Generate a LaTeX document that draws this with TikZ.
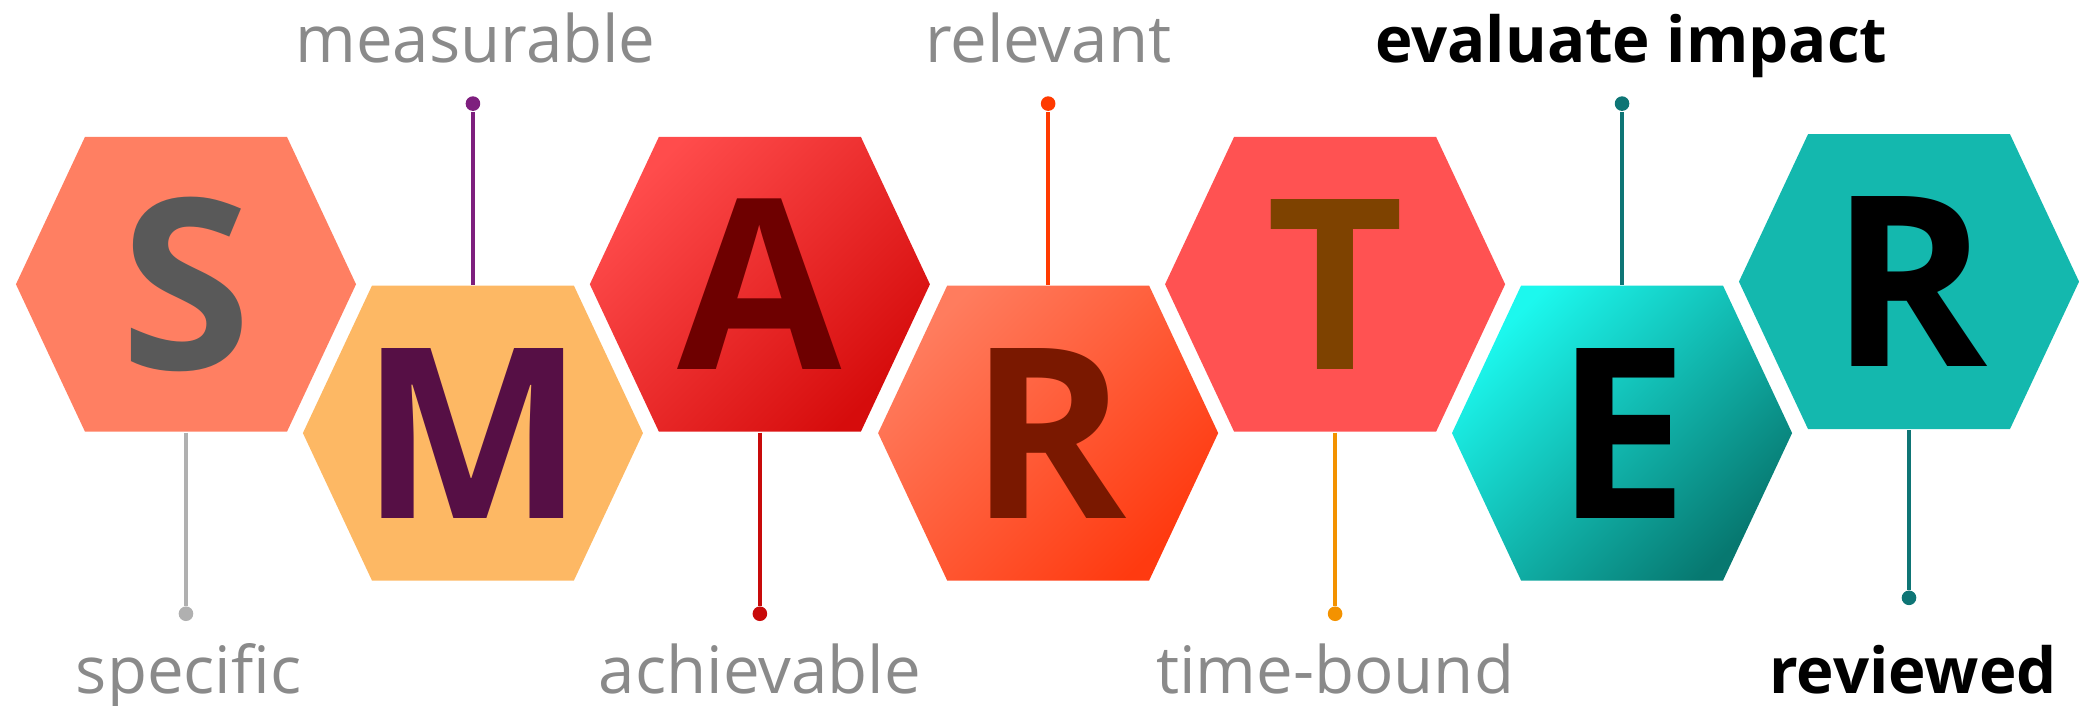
\documentclass[tikz,border=0pt]{standalone}
\usepackage{fontspec}
\usepackage{tikz}
\newfontfamily\hexfont{Open Sans}
\newfontfamily\tagfont{Open Sans}
\definecolor{tagGray}{HTML}{8A8A8A}
\definecolor{hexS}{HTML}{FF7F62}
\definecolor{hexM}{HTML}{FDB864}
\definecolor{hexAa}{HTML}{FF4C4C}
\definecolor{hexAb}{HTML}{D60C0C}
\definecolor{hexRa}{HTML}{FF7C5E}
\definecolor{hexRb}{HTML}{FF3A10}
\definecolor{hexT}{HTML}{FF5252}
\definecolor{hexEa}{HTML}{1CF8EE}
\definecolor{hexEb}{HTML}{077870}
\definecolor{hexR}{HTML}{14B8AE}
\definecolor{ltrS}{HTML}{595959}
\definecolor{ltrM}{HTML}{560F45}
\definecolor{ltrA}{HTML}{6E0000}
\definecolor{ltrR}{HTML}{7A1800}
\definecolor{ltrT}{HTML}{7E4200}
\definecolor{lineS}{HTML}{B0B0B0}
\definecolor{lineM}{HTML}{7E1F7E}
\definecolor{lineA}{HTML}{C80A0A}
\definecolor{lineR}{HTML}{FF3A00}
\definecolor{lineT}{HTML}{F39200}
\definecolor{lineE}{HTML}{0E7575}

\begin{document}
\begin{tikzpicture}[
		hexagon/.style={insert path={++(-1.28,0) -- ++(0.52,1.11) -- ++(1.52,0) -- ++(0.52,-1.11) -- ++(-0.52,-1.11) -- ++(-1.52,0) -- cycle}},
		letter/.style={minimum width=2.56cm,minimum height=2.22cm,inner sep=0pt,font=\hexfont\bfseries\fontsize{51}{51}\selectfont},
		dot/.style={circle,inner sep=0pt,minimum size=0.11cm},
		link/.style={line width=0.9pt},
		tag/.style={anchor=base,inner sep=0pt,text=tagGray,font=\tagfont\fontsize{14}{16}\selectfont},
		tagbold/.style={tag,text=black,font=\tagfont\bfseries\fontsize{13.6}{16}\selectfont}]
	\useasboundingbox (0,0) rectangle (15.68,5.31);
	\coordinate (cS) at (1.40,3.17);
	\coordinate (cM) at (3.56,2.05);
	\coordinate (cA) at (5.72,3.17);
	\coordinate (cR) at (7.89,2.05);
	\coordinate (cT) at (10.05,3.17);
	\coordinate (cE) at (12.21,2.05);
	\coordinate (cRr) at (14.37,3.19);
	\fill[hexS] (cS) [hexagon];
	\fill[hexM] (cM) [hexagon];
	\shade[top color=hexAa,bottom color=hexAb,shading angle=45] (cA) [hexagon];
	\shade[top color=hexRa,bottom color=hexRb,shading angle=45] (cR) [hexagon];
	\fill[hexT] (cT) [hexagon];
	\shade[top color=hexEa,bottom color=hexEb,shading angle=45] (cE) [hexagon];
	\fill[hexR] (cRr) [hexagon];
	\node[letter,text=ltrS] (S) at (cS) {S};
	\node[letter,text=ltrM] (M) at (cM) {M};
	\node[letter,text=ltrA] (A) at (cA) {A};
	\node[letter,text=ltrR] (R) at (cR) {R};
	\node[letter,text=ltrT] (T) at (cT) {T};
	\node[letter,text=black] (E) at (cE) {E};
	\node[letter,text=black] (Rr) at (cRr) {R};
	\node[dot,fill=lineS] (dS) at (1.40,0.69) {};
	\node[dot,fill=lineM] (dM) at (3.56,4.53) {};
	\node[dot,fill=lineA] (dA) at (5.72,0.69) {};
	\node[dot,fill=lineR] (dR) at (7.89,4.53) {};
	\node[dot,fill=lineT] (dT) at (10.05,0.69) {};
	\node[dot,fill=lineE] (dE) at (12.21,4.53) {};
	\node[dot,fill=lineE] (dRr) at (14.37,0.81) {};
	\draw[link,lineS] (S.south) -- (dS);
	\draw[link,lineM] (M.north) -- (dM);
	\draw[link,lineA] (A.south) -- (dA);
	\draw[link,lineR] (R.north) -- (dR);
	\draw[link,lineT] (T.south) -- (dT);
	\draw[link,lineE] (E.north) -- (dE);
	\draw[link,lineE] (Rr.south) -- (dRr);
	\node[tag] (tS) at (1.42,0.09) {specific};
	\node[tag] (tM) at (3.58,4.84) {measurable};
	\node[tag] (tA) at (5.72,0.09) {achievable};
	\node[tag] (tR) at (7.89,4.84) {relevant};
	\node[tag] (tT) at (10.05,0.09) {time-bound};
	\node[tagbold] (tE) at (12.28,4.84) {evaluate impact};
	\node[tagbold] (tRr) at (14.40,0.09) {reviewed};
\end{tikzpicture}
\end{document}
